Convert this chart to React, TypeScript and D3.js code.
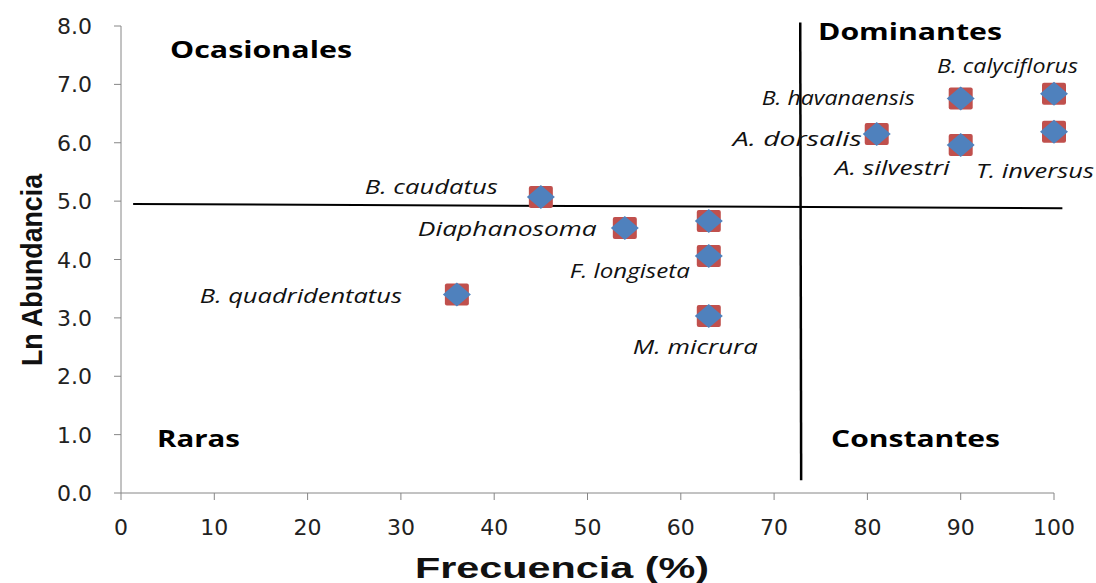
import React from "react";
import * as d3 from "d3";

const W = 1096;
const H = 583;

const species = [
  "B. quadridentatus",
  "B. caudatus",
  "Diaphanosoma",
  "",
  "F. longiseta",
  "M. micrura",
  "A. dorsalis",
  "B. havanaensis",
  "A. silvestri",
  "B. calyciflorus",
  "T. inversus",
];
const frecuencia = [36, 45, 54, 63, 63, 63, 81, 90, 90, 100, 100];
const lnAbundancia = [3.4, 5.07, 4.54, 4.66, 4.06, 3.03, 6.15, 6.76, 5.96, 6.84, 6.19];

// label offsets (px) relative to marker: dx of text start, dy of baseline, width
const labelDx = [-257, -176, -207, 0, -139, -76, -144, -199, -126, -117, -78];
const labelDy = [8, -3, 8, 0, 22, 38, 12, 7, 30, -21, 46];
const labelW = [202, 133, 179, 0, 120, 125, 129, 153, 115, 141, 118];

const xTicks = [0, 10, 20, 30, 40, 50, 60, 70, 80, 90, 100];
const yTicks = [0, 1, 2, 3, 4, 5, 6, 7, 8];

const quadrants = ["Ocasionales", "Dominantes", "Raras", "Constantes"];
const quadX = [170, 818, 157, 831];
const quadY = [58, 40, 447, 447];
const quadW = [182, 184, 83, 169];

// threshold lines in data units
const hLine = [
  [1.3, 4.95],
  [100.9, 4.88],
];
const vLine = [
  [72.8, 8.06],
  [72.9, 0.22],
];

export default function App() {
  const x = d3.scaleLinear().domain([0, 100]).range([121, 1054]);
  const y = d3.scaleLinear().domain([0, 8]).range([493, 26]);
  const line = d3
    .line<number[]>()
    .x((d) => x(d[0]))
    .y((d) => y(d[1]));
  const axisColor = "#868686";
  return (
    <svg
      width={W}
      height={H}
      style={{ position: "absolute", left: 0, top: 0, background: "#fff" }}
    >
      {/* axes */}
      <line x1={x(0)} x2={x(0)} y1={y(8)} y2={y(0)} stroke={axisColor} strokeWidth={1} />
      <line x1={x(0)} x2={x(100)} y1={y(0)} y2={y(0)} stroke={axisColor} strokeWidth={1} />
      {yTicks.map((t) => (
        <g key={"y" + t}>
          <line x1={x(0) - 7} x2={x(0)} y1={y(t)} y2={y(t)} stroke={axisColor} />
          <text
            x={92}
            y={y(t) + 8}
            textAnchor="end"
            fontFamily="DejaVu Sans"
            fontSize={22}
            fill="#222"
          >
            {t.toFixed(1)}
          </text>
        </g>
      ))}
      {xTicks.map((t) => (
        <g key={"x" + t}>
          <line x1={x(t)} x2={x(t)} y1={y(0)} y2={y(0) + 7} stroke={axisColor} />
          <text
            x={x(t)}
            y={535}
            textAnchor="middle"
            fontFamily="DejaVu Sans"
            fontSize={22}
            fill="#222"
          >
            {t}
          </text>
        </g>
      ))}
      {/* axis titles */}
      <text
        x={562}
        y={578}
        textAnchor="middle"
        fontFamily="Liberation Sans"
        fontWeight="bold"
        fontSize={30}
        fill="#111"
        textLength={294}
        lengthAdjust="spacingAndGlyphs"
      >
        Frecuencia (%)
      </text>
      <text
        transform="translate(42,270) rotate(-90)"
        textAnchor="middle"
        fontFamily="Liberation Sans"
        fontWeight="bold"
        fontSize={30}
        fill="#111"
        textLength={192}
        lengthAdjust="spacingAndGlyphs"
      >
        Ln Abundancia
      </text>
      {/* threshold lines */}
      <path d={line(hLine) || ""} stroke="#000" strokeWidth={2} fill="none" />
      <path d={line(vLine) || ""} stroke="#000" strokeWidth={2.5} fill="none" />
      {/* quadrant labels */}
      {quadrants.map((q, i) => (
        <text
          key={q}
          x={quadX[i]}
          y={quadY[i]}
          fontFamily="Open Sans"
          fontWeight="bold"
          fontSize={23}
          fill="#000"
          textLength={quadW[i]}
          lengthAdjust="spacingAndGlyphs"
        >
          {q}
        </text>
      ))}
      {/* markers */}
      {frecuencia.map((f, i) => {
        const cx = x(f);
        const cy = y(lnAbundancia[i]);
        return (
          <g key={"m" + i}>
            <rect x={cx - 12} y={cy - 11} width={24} height={22} rx={2} fill="#C0504D" />
            <path
              d={`M${cx - 14},${cy} L${cx},${cy - 12} L${cx + 14},${cy} L${cx},${cy + 12} Z`}
              fill="#4F81BD"
            />
          </g>
        );
      })}
      {/* species labels */}
      {species.map((s, i) =>
        s ? (
          <text
            key={"l" + i}
            x={x(frecuencia[i]) + labelDx[i]}
            y={y(lnAbundancia[i]) + labelDy[i]}
            fontFamily="Open Sans"
            fontStyle="italic"
            fontSize={20}
            fill="#111"
            textLength={labelW[i]}
            lengthAdjust="spacingAndGlyphs"
          >
            {s}
          </text>
        ) : null
      )}
    </svg>
  );
}
